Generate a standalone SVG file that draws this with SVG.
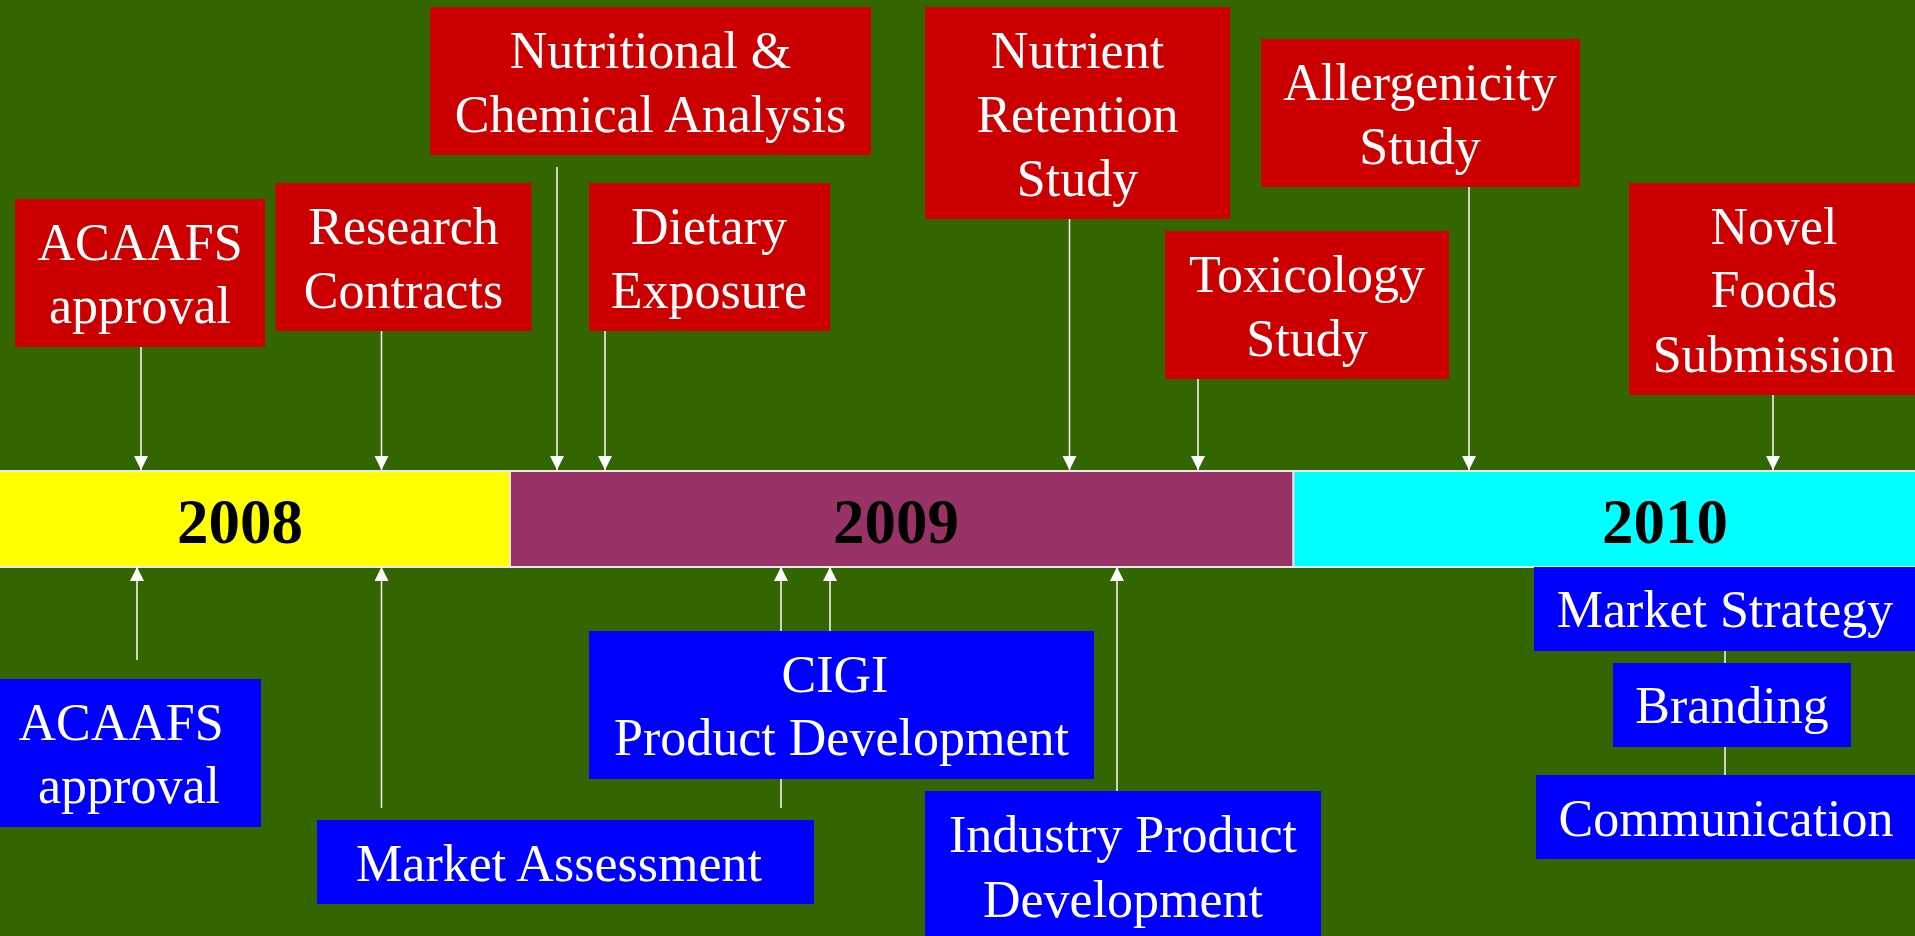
<svg xmlns="http://www.w3.org/2000/svg" width="1915" height="936" viewBox="0 0 1915 936">
<defs>
<marker id="ah" markerWidth="14" markerHeight="15" refX="14" refY="7" orient="auto" markerUnits="userSpaceOnUse">
<path d="M0,0 L14,7 L0,14 Z" fill="#ffffff"/>
</marker>
<style>
.red{fill:#cc0000}
.blue{fill:#0000ff}
.t{font-family:"Liberation Serif","Times New Roman",serif;font-size:52px;fill:#ffffff;text-anchor:middle}
.yr{font-family:"Liberation Serif","Times New Roman",serif;font-size:63px;font-weight:bold;fill:#000000;text-anchor:middle}
.c{stroke:#ffffff;stroke-width:1.5;fill:none}
.seg{stroke:#e8e8e8;stroke-width:2}
</style>
</defs>
<rect x="0" y="0" width="1915" height="936" fill="#336600"/>

<g id="timeline">
<rect class="seg" x="-2" y="471" width="512" height="96" fill="#ffff00"/>
<rect class="seg" x="510" y="471" width="783.5" height="96" fill="#993366"/>
<rect class="seg" x="1293.5" y="471" width="625" height="96" fill="#00ffff"/>
<text class="yr" x="240" y="543">2008</text>
<text class="yr" x="896" y="543">2009</text>
<text class="yr" x="1665" y="543">2010</text>
</g>

<g id="connectors">
<line class="c" x1="141" y1="347" x2="141" y2="470" marker-end="url(#ah)"/>
<line class="c" x1="381.5" y1="331" x2="381.5" y2="470" marker-end="url(#ah)"/>
<line class="c" x1="557" y1="167" x2="557" y2="470" marker-end="url(#ah)"/>
<line class="c" x1="605" y1="331" x2="605" y2="470" marker-end="url(#ah)"/>
<line class="c" x1="1069.5" y1="215" x2="1069.5" y2="470" marker-end="url(#ah)"/>
<line class="c" x1="1198" y1="375" x2="1198" y2="470" marker-end="url(#ah)"/>
<line class="c" x1="1469" y1="183" x2="1469" y2="470" marker-end="url(#ah)"/>
<line class="c" x1="1773" y1="391" x2="1773" y2="470" marker-end="url(#ah)"/>
<line class="c" x1="137" y1="660" x2="137" y2="567" marker-end="url(#ah)"/>
<line class="c" x1="381.5" y1="808" x2="381.5" y2="567" marker-end="url(#ah)"/>
<line class="c" x1="781" y1="808" x2="781" y2="567" marker-end="url(#ah)"/>
<line class="c" x1="830" y1="632" x2="830" y2="567" marker-end="url(#ah)"/>
<line class="c" x1="1117" y1="792" x2="1117" y2="567" marker-end="url(#ah)"/>
<line class="c" x1="1725" y1="647" x2="1725" y2="664"/>
<line class="c" x1="1725" y1="743" x2="1725" y2="776"/>
</g>

<g id="n-acaafs-red">
<rect class="red" x="15" y="199" width="250" height="148"/>
<text class="t" x="140" y="260">ACAAFS</text>
<text class="t" x="140" y="323">approval</text>
</g>
<g id="n-research">
<rect class="red" x="275.5" y="183" width="256" height="148"/>
<text class="t" x="403.5" y="244">Research</text>
<text class="t" x="403.5" y="308">Contracts</text>
</g>
<g id="n-nutritional">
<rect class="red" x="430" y="7" width="441" height="148"/>
<text class="t" x="650.5" y="68">Nutritional &amp;</text>
<text class="t" x="650.5" y="132">Chemical Analysis</text>
</g>
<g id="n-dietary">
<rect class="red" x="589" y="183" width="241" height="148"/>
<text class="t" x="709" y="244">Dietary</text>
<text class="t" x="709" y="308">Exposure</text>
</g>
<g id="n-nutrient">
<rect class="red" x="925" y="7" width="305" height="212"/>
<text class="t" x="1077.5" y="68">Nutrient</text>
<text class="t" x="1077.5" y="132">Retention</text>
<text class="t" x="1077.5" y="196">Study</text>
</g>
<g id="n-toxicology">
<rect class="red" x="1165" y="231" width="284" height="148"/>
<text class="t" x="1307" y="292">Toxicology</text>
<text class="t" x="1307" y="356">Study</text>
</g>
<g id="n-allergenicity">
<rect class="red" x="1261" y="39" width="319" height="148"/>
<text class="t" x="1420" y="100">Allergenicity</text>
<text class="t" x="1420" y="164">Study</text>
</g>
<g id="n-novel">
<rect class="red" x="1629" y="183" width="290" height="212"/>
<text class="t" x="1774" y="244">Novel</text>
<text class="t" x="1774" y="307">Foods</text>
<text class="t" x="1774" y="372">Submission</text>
</g>

<g id="n-acaafs-blue">
<rect class="blue" x="-2" y="679" width="263" height="148"/>
<text class="t" x="121" y="740">ACAAFS</text>
<text class="t" x="129" y="803">approval</text>
</g>
<g id="n-market-assessment">
<rect class="blue" x="317" y="820" width="497" height="84"/>
<text class="t" x="559" y="881">Market Assessment</text>
</g>
<g id="n-cigi">
<rect class="blue" x="589" y="631" width="505" height="148"/>
<text class="t" x="835" y="692">CIGI</text>
<text class="t" x="841.5" y="755">Product Development</text>
</g>
<g id="n-industry">
<rect class="blue" x="925" y="791" width="396" height="150"/>
<text class="t" x="1123" y="852">Industry Product</text>
<text class="t" x="1123" y="917">Development</text>
</g>
<g id="n-market-strategy">
<rect class="blue" x="1534" y="567" width="385" height="84"/>
<text class="t" x="1725" y="627">Market Strategy</text>
</g>
<g id="n-branding">
<rect class="blue" x="1613" y="663" width="238" height="84"/>
<text class="t" x="1732" y="723">Branding</text>
</g>
<g id="n-communication">
<rect class="blue" x="1536" y="775" width="383" height="84"/>
<text class="t" x="1726" y="836">Communication</text>
</g>
</svg>
